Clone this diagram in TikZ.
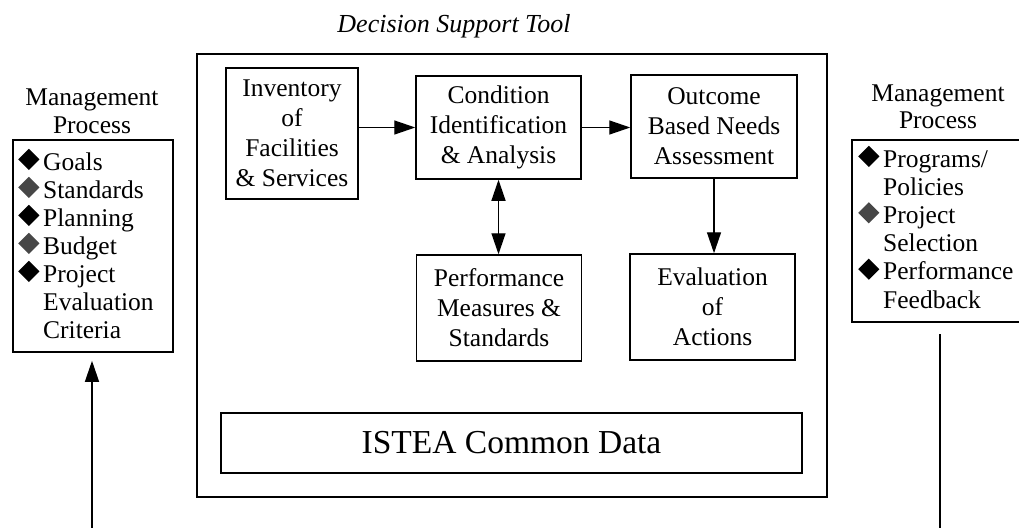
\documentclass[tikz,border=0pt]{standalone}
\usepackage{fontspec}
\setmainfont{Liberation Serif}
\usepackage{graphicx}
\usetikzlibrary{arrows.meta}
\newcommand\dmdc[1]{\makebox[25pt][l]{\textcolor{#1}{\rotatebox{45}{\rule{15pt}{15pt}}}}}
\newcommand\dmd{\dmdc{black}}
\newcommand\gdmd{\dmdc{black!72}}
\newcommand\ind{\hspace*{25pt}}
\newcommand\fs{\fontsize{25.5}{30}\selectfont}
\begin{document}
\begin{tikzpicture}[x=1pt,y=-1pt,
  box/.style={draw, line width=1.5pt, inner sep=0pt, align=center, font=\fs},
  frame/.style={draw, line width=1.6pt, inner sep=0pt},
  conn/.style={line width=1.4pt},
  arr/.style={line width=1.4pt, -{Triangle[length=21pt,width=14pt]}},
  darr/.style={line width=1.4pt, {Triangle[length=21pt,width=14pt]}-{Triangle[length=21pt,width=14pt]}},
  lbl/.style={inner sep=0pt}]
\useasboundingbox (0,0) rectangle (1019,527);
\fill[white] (0,0) rectangle (1019,527);

% title
\node[lbl, anchor=base, font=\fontsize{26}{30}\selectfont\itshape] (title) at (454,33) {Decision Support Tool};

% outer frame
\node[frame, minimum width=630pt, minimum height=443pt] (outer) at (512,275.5) {};

% inner boxes
\node[box, minimum width=132pt, minimum height=131pt] (inv) at (292,133.5) {Inventory\\of\\Facilities\\\& Services};
\node[box, minimum width=165pt, minimum height=103pt] (cond) at (498.5,127.5) {Condition\\Identification\\\& Analysis};
\node[box, minimum width=166pt, minimum height=103pt] (out) at (714,126.5) {Outcome\\Based Needs\\Assessment};
\node[box, minimum width=165pt, minimum height=106pt] (perf) at (499,308) {Performance\\Measures \&\\Standards};
\node[box, minimum width=165pt, minimum height=106pt] (eval) at (712.5,307) {Evaluation\\of\\Actions};
\node[box, minimum width=581pt, minimum height=60pt, font=\fontsize{33.5}{36}\selectfont] (istea) at (511.5,443) {ISTEA Common Data};

% arrows inside
\draw[arr] (inv.east |- cond.west) -- (cond.west);
\draw[arr] (cond.east) -- (out.west |- cond.east);
\draw[darr] (cond.south) -- (cond.south |- perf.north);
\draw[arr] (out.south) -- (out.south |- eval.north);

% left management process
\node[lbl, anchor=base, font=\fontsize{25.5}{28}\selectfont] (lhead) at (92,105) {\parbox[t]{170pt}{\centering Management\\Process}};
\node[frame, minimum width=160pt, minimum height=212pt] (lbox) at (93,246) {};
\node[lbl, anchor=base west, font=\fontsize{25.5}{28}\selectfont] (llist) at (18,170) {\parbox[t]{155pt}{\lineskiplimit=-100pt\raggedright
\dmd Goals\\
\gdmd Standards\\
\dmd Planning\\
\gdmd Budget\\
\dmd Project\\
\ind Evaluation\\
\ind Criteria}};

% right management process
\node[lbl, anchor=base, font=\fontsize{25.5}{27}\selectfont] (rhead) at (938,101) {\parbox[t]{170pt}{\centering Management\\Process}};
\node[frame, minimum width=172pt, minimum height=182pt] (rbox) at (938,231) {};
\node[lbl, anchor=base west, font=\fontsize{25.5}{28.2}\selectfont] (rlist) at (858,167) {\parbox[t]{165pt}{\lineskiplimit=-100pt\raggedright
\dmd Programs/\\
\ind Policies\\
\gdmd Project\\
\ind Selection\\
\dmd Performance\\
\ind Feedback}};

% outside connectors
\coordinate (lb) at (92,530);
\coordinate (rb) at (940,530);
\draw[arr, shorten >=8pt] (lb) -- (lb |- lbox.south);
\draw[conn, shorten >=11pt] (rb) -- (rb |- rbox.south);
\end{tikzpicture}
\end{document}
